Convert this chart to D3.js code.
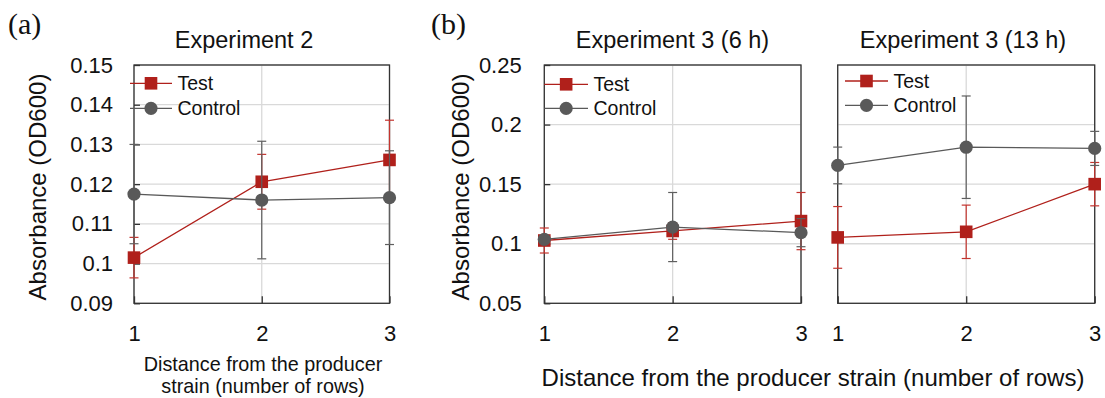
<!DOCTYPE html>
<html>
<head>
<meta charset="utf-8">
<script src="https://cdn.jsdelivr.net/npm/d3@7"></script>
<style>
  html, body { margin: 0; padding: 0; background: #fff; }
  svg { display: block; font-family: "Liberation Sans", Arial, Helvetica, sans-serif; }
</style>
</head>
<body>
<svg id="chart" width="1105" height="398"></svg>
<script>
// Distance from the producer strain (number of rows)
const distances = [1, 2, 3];

// Experiment 2
const exp2Test = [0.1015, 0.1206, 0.1261];
const exp2TestErr = [0.0051, 0.0069, 0.0100];
const exp2Control = [0.1175, 0.1160, 0.1166];
const exp2ControlErr = [0.0125, 0.0148, 0.0118];

// Experiment 3, 6 h
const exp3h6Test = [0.1027, 0.1107, 0.1190];
const exp3h6TestErr = [0.0105, 0.0070, 0.0240];
const exp3h6Control = [0.1037, 0.1140, 0.1093];
const exp3h6ControlErr = [0.0030, 0.0290, 0.0118];

// Experiment 3, 13 h
const exp3h13Test = [0.1053, 0.1100, 0.1500];
const exp3h13TestErr = [0.0259, 0.0224, 0.0182];
const exp3h13Control = [0.1657, 0.1810, 0.1800];
const exp3h13ControlErr = [0.0154, 0.0430, 0.0143];

// Tick values
const yTicksExp2 = [0.09, 0.10, 0.11, 0.12, 0.13, 0.14, 0.15];
const yTicksExp3 = [0.05, 0.10, 0.15, 0.20, 0.25];
const seriesNames = ["Test", "Control"];

const RED = "#B0201B";
const GREY = "#595959";
const FRAME = "#333333";
const GRID = "#d9d9d9";

const svg = d3.select("#chart");
const fmt = d => String(+d.toFixed(2));

function panel(opts) {
  const x = d3.scaleLinear().domain([1, 3]).range([opts.left, opts.right]);
  const y = d3.scaleLinear().domain(opts.yDomain).range([303.3, 65]);
  const g = svg.append("g");

  // gridlines
  g.append("g").selectAll("line.h").data(opts.yTicks).join("line")
    .attr("x1", opts.left).attr("x2", opts.right)
    .attr("y1", d => y(d)).attr("y2", d => y(d))
    .attr("stroke", GRID).attr("stroke-width", 1.3);
  g.append("g").selectAll("line.v").data(distances).join("line")
    .attr("x1", d => x(d)).attr("x2", d => x(d))
    .attr("y1", 65).attr("y2", 303.3)
    .attr("stroke", GRID).attr("stroke-width", 1.3);

  // axes
  const xAxis = d3.axisBottom(x).tickValues(distances).tickFormat(d3.format("d"))
    .tickSizeInner(-7).tickSizeOuter(0).tickPadding(22);
  const xg = g.append("g").attr("transform", "translate(0,303.3)").call(xAxis);
  xg.select(".domain").remove();
  xg.selectAll(".tick line").attr("stroke", FRAME).attr("stroke-width", 1.3);
  xg.selectAll("text").attr("font-size", 22).attr("fill", "#111")
    .attr("font-family", "Liberation Sans, Arial, sans-serif");

  if (opts.yLabels) {
    const yAxis = d3.axisLeft(y).tickValues(opts.yTicks).tickFormat(fmt)
      .tickSizeInner(-6).tickSizeOuter(0).tickPadding(opts.yPad);
    const yg = g.append("g").attr("transform", `translate(${opts.left},0)`).call(yAxis);
    yg.select(".domain").remove();
    yg.selectAll(".tick line").attr("stroke", FRAME).attr("stroke-width", 1.3);
    yg.selectAll("text").attr("font-size", 22).attr("fill", "#111")
      .attr("font-family", "Liberation Sans, Arial, sans-serif");
  }

  // frame
  g.append("rect").attr("x", opts.left).attr("y", 65)
    .attr("width", opts.right - opts.left).attr("height", 303.3 - 65)
    .attr("fill", "none").attr("stroke", FRAME).attr("stroke-width", 1.3);

  const series = [
    { name: seriesNames[0], vals: opts.test, err: opts.testErr, color: RED, errColor: "#C4342E", shape: "square" },
    { name: seriesNames[1], vals: opts.control, err: opts.controlErr, color: GREY, errColor: "#5f5f5f", shape: "circle" }
  ];

  series.forEach(s => {
    const pts = distances.map((d, i) => ({ d, v: s.vals[i], e: s.err[i] }));
    const eb = g.append("g").attr("stroke", s.errColor).attr("stroke-width", 1.2);
    eb.selectAll("line.bar").data(pts).join("line")
      .attr("x1", p => x(p.d)).attr("x2", p => x(p.d))
      .attr("y1", p => y(p.v - p.e)).attr("y2", p => y(p.v + p.e));
    eb.selectAll("line.top").data(pts).join("line")
      .attr("x1", p => x(p.d) - 4.5).attr("x2", p => x(p.d) + 4.5)
      .attr("y1", p => y(p.v + p.e)).attr("y2", p => y(p.v + p.e));
    eb.selectAll("line.bot").data(pts).join("line")
      .attr("x1", p => x(p.d) - 4.5).attr("x2", p => x(p.d) + 4.5)
      .attr("y1", p => y(p.v - p.e)).attr("y2", p => y(p.v - p.e));

    g.append("path").datum(pts)
      .attr("d", d3.line().x(p => x(p.d)).y(p => y(p.v)))
      .attr("fill", "none").attr("stroke", s.color).attr("stroke-width", 1.3);

    drawMarkers(g, pts.map(p => [x(p.d), y(p.v)]), s);
  });

  // legend
  const lg = g.append("g");
  series.forEach((s, i) => {
    const ry = opts.legendY[i];
    lg.append("line").attr("x1", opts.legendX[0]).attr("x2", opts.legendX[1])
      .attr("y1", ry).attr("y2", ry).attr("stroke", s.color).attr("stroke-width", 1.3);
    drawMarkers(lg, [[(opts.legendX[0] + opts.legendX[1]) / 2, ry]], s);
    lg.append("text").attr("x", opts.legendX[1] + 5.5).attr("y", ry + 7)
      .attr("font-size", 19.5).attr("fill", "#111").text(s.name);
  });

  // title
  g.append("text").attr("x", opts.titleX).attr("y", 48).attr("text-anchor", "middle")
    .attr("font-size", 23.5).attr("fill", "#111").text(opts.title);

  if (opts.yTitleX) {
    g.append("text")
      .attr("transform", `translate(${opts.yTitleX},187) rotate(-90)`)
      .attr("text-anchor", "middle").attr("font-size", 24).attr("fill", "#111")
      .text("Absorbance (OD600)");
  }
  return { x, y };
}

function drawMarkers(g, coords, s) {
  if (s.shape === "square") {
    g.selectAll(null).data(coords).join("rect")
      .attr("x", c => c[0] - 6.3).attr("y", c => c[1] - 6.3)
      .attr("width", 12.6).attr("height", 12.6).attr("fill", s.color);
  } else {
    g.selectAll(null).data(coords).join("circle")
      .attr("cx", c => c[0]).attr("cy", c => c[1]).attr("r", 6.6).attr("fill", s.color);
  }
}

panel({
  left: 134, right: 389.5, yDomain: [0.09, 0.15], yTicks: yTicksExp2, yLabels: true, yPad: 21,
  test: exp2Test, testErr: exp2TestErr, control: exp2Control, controlErr: exp2ControlErr,
  legendX: [130, 172], legendY: [83.3, 108.3], title: "Experiment 2", titleX: 244, yTitleX: 45.5
});
panel({
  left: 544.3, right: 801, yDomain: [0.05, 0.25], yTicks: yTicksExp3, yLabels: true, yPad: 22.6,
  test: exp3h6Test, testErr: exp3h6TestErr, control: exp3h6Control, controlErr: exp3h6ControlErr,
  legendX: [544.3, 588], legendY: [84.3, 108.3], title: "Experiment 3 (6 h)", titleX: 672.5, yTitleX: 469.3
});
panel({
  left: 837.7, right: 1094.7, yDomain: [0.05, 0.25], yTicks: yTicksExp3, yLabels: false,
  test: exp3h13Test, testErr: exp3h13TestErr, control: exp3h13Control, controlErr: exp3h13ControlErr,
  legendX: [845, 888], legendY: [81, 105.3], title: "Experiment 3 (13 h)", titleX: 963
});

// x-axis titles
const xt = svg.append("text").attr("x", 263).attr("text-anchor", "middle")
  .attr("font-size", 19.8).attr("fill", "#111");
xt.append("tspan").attr("x", 263).attr("y", 371).text("Distance from the producer");
xt.append("tspan").attr("x", 263).attr("y", 393).text("strain (number of rows)");

svg.append("text").attr("x", 813).attr("y", 385.5).attr("text-anchor", "middle")
  .attr("font-size", 24).attr("fill", "#111")
  .text("Distance from the producer strain (number of rows)");

// panel letters
svg.append("text").attr("x", 8).attr("y", 34)
  .attr("font-family", "Liberation Serif, Times New Roman, serif")
  .attr("font-size", 30).attr("fill", "#111").text("(a)");
svg.append("text").attr("x", 431).attr("y", 34)
  .attr("font-family", "Liberation Serif, Times New Roman, serif")
  .attr("font-size", 30).attr("fill", "#111").text("(b)");
</script>
</body>
</html>
